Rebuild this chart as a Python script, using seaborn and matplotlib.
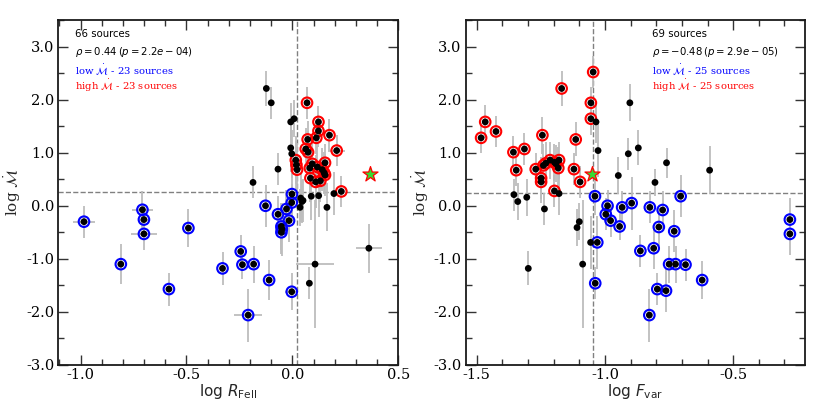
import numpy as np
import pandas as pd
import matplotlib
matplotlib.use("Agg")
import matplotlib.pyplot as plt
import seaborn as sns
from matplotlib.ticker import MultipleLocator, FormatStrFormatter

# ---------------- Left panel: log R_FeII ----------------
L_low_x = [-0.984, -0.81, -0.708, -0.701, -0.701, -0.583, -0.491, -0.33, -0.244, -0.236, -0.183, -0.209,
           -0.127, -0.11, -0.068, -0.052, -0.050, -0.052, -0.028, -0.016, -0.003, -0.003, -0.002]
L_low_y = [-0.30, -1.10, -0.075, -0.26, -0.53, -1.57, -0.42, -1.18, -0.86, -1.11, -1.10, -2.06,
           0.00, -1.40, -0.16, -0.39, -0.44, -0.50, -0.06, -0.28, 0.06, -1.62, 0.22]
L_low_xerr = [0.05, 0, 0.05, 0.03, 0.06, 0, 0, 0, 0, 0, 0, 0.067,
              0, 0, 0, 0, 0, 0, 0, 0, 0, 0.03, 0]
L_low_yerr = [0.30, 0.38, 0.35, 0.30, 0.30, 0.31, 0.36, 0.31, 0.30, 0.27, 0.35, 0.50,
              0.40, 0.37, 0.35, 0.45, 0.50, 0.40, 0.35, 0.40, 0.35, 0.35, 0.45]

L_high_x = [0.069, 0.123, 0.123, 0.113, 0.072, 0.175, 0.209, 0.063, 0.074, 0.016, 0.019, 0.022,
            0.094, 0.082, 0.154, 0.141, 0.154, 0.085, 0.11, 0.132, 0.231, 0.118, 0.150]
L_high_y = [1.94, 1.58, 1.41, 1.28, 1.25, 1.33, 1.04, 1.07, 1.01, 0.86, 0.77, 0.68,
            0.79, 0.71, 0.81, 0.68, 0.58, 0.52, 0.45, 0.47, 0.27, 0.73, 0.62]
L_high_xerr = [0, 0, 0, 0, 0, 0, 0.04, 0, 0, 0, 0, 0,
               0, 0, 0, 0, 0, 0, 0, 0, 0, 0, 0]
L_high_yerr = [0.30, 0.30, 0.30, 0.30, 0.35, 0.30, 0.30, 0.40, 0.40, 0.45, 0.45, 0.50,
               0.40, 0.45, 0.35, 0.40, 0.40, 0.45, 0.50, 0.40, 0.30, 0.40, 0.40]

L_oth_x = [-0.123, -0.10, -0.008, 0.008, -0.008, -0.003, -0.068, -0.186, 0.039, 0.05, 0.089, 0.124,
           0.196, 0.036, 0.163, 0.361, 0.107, 0.08, 0.045]
L_oth_y = [2.21, 1.94, 1.58, 1.64, 1.09, 0.98, 0.69, 0.44, 0.145, 0.10, 0.18, 0.19,
           0.23, -0.03, -0.03, -0.80, -1.10, -1.46, 0.08]
L_oth_xerr = [0, 0, 0, 0, 0, 0, 0, 0, 0, 0, 0, 0,
              0, 0, 0, 0.06, 0.09, 0, 0]
L_oth_yerr = [0.33, 0.30, 0.35, 0.35, 0.45, 0.45, 0.30, 0.30, 0.45, 0.40, 0.45, 0.40,
              0.40, 0.35, 0.45, 0.46, 1.20, 0.30, 0.40]

L_star = (0.365, 0.60)

# ---------------- Right panel: log F_var ----------------
R_low_x = [-1.039, -0.99, -0.997, -0.978, -0.933, -0.943, -0.896, -0.862, -0.827, -0.825, -0.81, -0.796,
           -0.79, -0.775, -0.762, -0.75, -0.73, -0.725, -0.686, -0.621, -0.279, -0.279, -1.03, -1.038, -0.705]
R_low_y = [0.18, 0.00, -0.16, -0.28, -0.03, -0.39, 0.05, -0.85, -2.06, -0.03, -0.80, -1.57,
           -0.40, -0.08, -1.60, -1.10, -0.48, -1.10, -1.11, -1.40, -0.26, -0.53, -0.69, -1.46, 0.18]
R_low_yerr = [0.35, 0.30, 0.30, 0.30, 0.30, 0.25, 0.50, 0.30, 0.50, 0.30, 0.40, 0.30,
              0.35, 0.35, 0.40, 0.35, 0.40, 0.35, 0.30, 0.35, 0.40, 0.40, 0.50, 0.30, 0.40]

R_high_x = [-1.483, -1.467, -1.425, -1.357, -1.346, -1.314, -1.27, -1.249, -1.249, -1.244, -1.24, -1.231,
            -1.214, -1.197, -1.191, -1.179, -1.182, -1.197, -1.169, -1.121, -1.114, -1.097, -1.055, -1.055, -1.046]
R_high_y = [1.28, 1.58, 1.40, 1.01, 0.67, 1.07, 0.69, 0.52, 0.45, 1.33, 0.76, 0.80,
            0.86, 0.82, 0.79, 0.86, 0.71, 0.28, 2.21, 0.69, 1.25, 0.45, 1.94, 1.64, 2.52]
R_high_yerr = [0.28, 0.31, 0.30, 0.30, 0.30, 0.30, 0.30, 0.40, 0.40, 0.35, 0.40, 0.40,
               0.35, 0.35, 0.35, 0.35, 0.40, 0.30, 0.33, 0.30, 0.32, 0.30, 0.30, 0.30, 0.30]

R_oth_x = [-1.035, -1.027, -0.948, -0.909, -0.903, -0.87, -0.805, -0.76, -0.592, -1.355, -1.34, -1.305,
           -1.179, -1.236, -1.299, -1.109, -1.10, -1.056, -1.087]
R_oth_y = [1.58, 1.04, 0.57, 0.98, 1.94, 1.09, 0.44, 0.81, 0.67, 0.21, 0.08, 0.16,
           0.23, -0.06, -1.18, -0.41, -0.30, -0.69, -1.10]
R_oth_yerr = [0.40, 0.50, 0.35, 0.30, 0.35, 0.33, 0.25, 0.28, 0.45, 0.30, 0.35, 0.35,
              0.40, 0.30, 0.32, 0.35, 0.35, 0.50, 1.20]

R_star = (-1.049, 0.60)

LEFT_TEXT = ["66 sources", r"$\rho = 0.44\,(p = 2.2e-04)$",
             r"low $\dot{\mathcal{M}}$ - 23 sources", r"high $\dot{\mathcal{M}}$ - 23 sources"]
RIGHT_TEXT = ["69 sources", r"$\rho = -0.48\,(p = 2.9e-05)$",
              r"low $\dot{\mathcal{M}}$ - 25 sources", r"high $\dot{\mathcal{M}}$ - 25 sources"]


def frame(xs, ys, xe, ye, grp):
    return pd.DataFrame({"x": xs, "y": ys, "xerr": xe, "yerr": ye, "grp": grp})


left_df = pd.concat([
    frame(L_low_x, L_low_y, L_low_xerr, L_low_yerr, "low"),
    frame(L_high_x, L_high_y, L_high_xerr, L_high_yerr, "high"),
    frame(L_oth_x, L_oth_y, L_oth_xerr, L_oth_yerr, "other"),
], ignore_index=True)

right_df = pd.concat([
    frame(R_low_x, R_low_y, [0] * len(R_low_x), R_low_yerr, "low"),
    frame(R_high_x, R_high_y, [0] * len(R_high_x), R_high_yerr, "high"),
    frame(R_oth_x, R_oth_y, [0] * len(R_oth_x), R_oth_yerr, "other"),
], ignore_index=True)

sns.set_style("ticks")
plt.rcParams["font.family"] = ["DejaVu Serif"]
plt.rcParams["axes.unicode_minus"] = False
plt.rcParams["mathtext.fontset"] = "dejavusans"

fig = plt.figure(figsize=(8.3, 4.15), dpi=100)
axL = fig.add_axes([0.0703, 0.1205, 0.4096, 0.8313])
axR = fig.add_axes([0.5611, 0.1205, 0.4088, 0.8313])


def draw(ax, df, star, vline, hline, xlim, xmajor, xlabel, texts, tx):
    ax.errorbar(df["x"], df["y"], xerr=df["xerr"], yerr=df["yerr"], fmt="none",
                ecolor="#bdbdbd", elinewidth=1.3, capsize=0, zorder=1)
    ax.axvline(vline, color="0.5", ls="--", lw=1.0, zorder=0.5)
    ax.axhline(hline, color="0.5", ls="--", lw=1.0, zorder=0.5)
    for g, col in [("low", "blue"), ("high", "red")]:
        sns.scatterplot(data=df[df["grp"] == g], x="x", y="y", ax=ax, s=58, color=col,
                        facecolors="none", edgecolor=col, linewidth=1.5, zorder=2, legend=False)
    sns.scatterplot(data=df, x="x", y="y", ax=ax, s=24, color="black", edgecolor="none",
                    zorder=3, legend=False)
    sns.scatterplot(x=[star[0]], y=[star[1]], ax=ax, marker="*", s=130, color="#33dd33",
                    edgecolor="red", linewidth=0.9, zorder=4, legend=False)
    ax.set_xlim(*xlim)
    ax.set_ylim(-3.0, 3.5)
    ax.xaxis.set_major_locator(MultipleLocator(xmajor))
    ax.xaxis.set_minor_locator(MultipleLocator(0.1))
    ax.yaxis.set_major_locator(MultipleLocator(1.0))
    ax.yaxis.set_minor_locator(MultipleLocator(0.5))
    ax.xaxis.set_major_formatter(FormatStrFormatter("%.1f"))
    ax.yaxis.set_major_formatter(FormatStrFormatter("%.1f"))
    ax.tick_params(which="both", direction="in", top=True, right=True, width=1.0, colors="0.2")
    ax.tick_params(which="major", length=7, labelsize=10.5, labelcolor="black", pad=3)
    ax.tick_params(axis="x", which="major", pad=2)
    ax.tick_params(which="minor", length=4)
    for sp in ax.spines.values():
        sp.set_linewidth(1.3)
        sp.set_color("0.1")
    ax.set_xlabel(xlabel, fontsize=11, family="DejaVu Sans", labelpad=0)
    ax.set_ylabel(r"log $\dot{\mathcal{M}}$", fontsize=11, labelpad=2)
    cols = ["black", "black", "blue", "red"]
    fams = ["DejaVu Sans", "DejaVu Sans", "DejaVu Serif", "DejaVu Serif"]
    sizes = [7.3, 7.3, 7.2, 7.2]
    ys = [0.958, 0.908, 0.857, 0.809]
    for t, c, f, fs, yy in zip(texts, cols, fams, sizes, ys):
        ax.text(tx, yy, t, transform=ax.transAxes, color=c, family=f, fontsize=fs,
                va="center", ha="left")


draw(axL, left_df, L_star, 0.02, 0.25, (-1.105, 0.5), 0.5,
     r"log $R_{\rm FeII}$", LEFT_TEXT, 0.049)
draw(axR, right_df, R_star, -1.046, 0.24, (-1.543, -0.22), 0.5,
     r"log $F_{\rm var}$", RIGHT_TEXT, 0.55)

fig.savefig("out.png", dpi=100)
